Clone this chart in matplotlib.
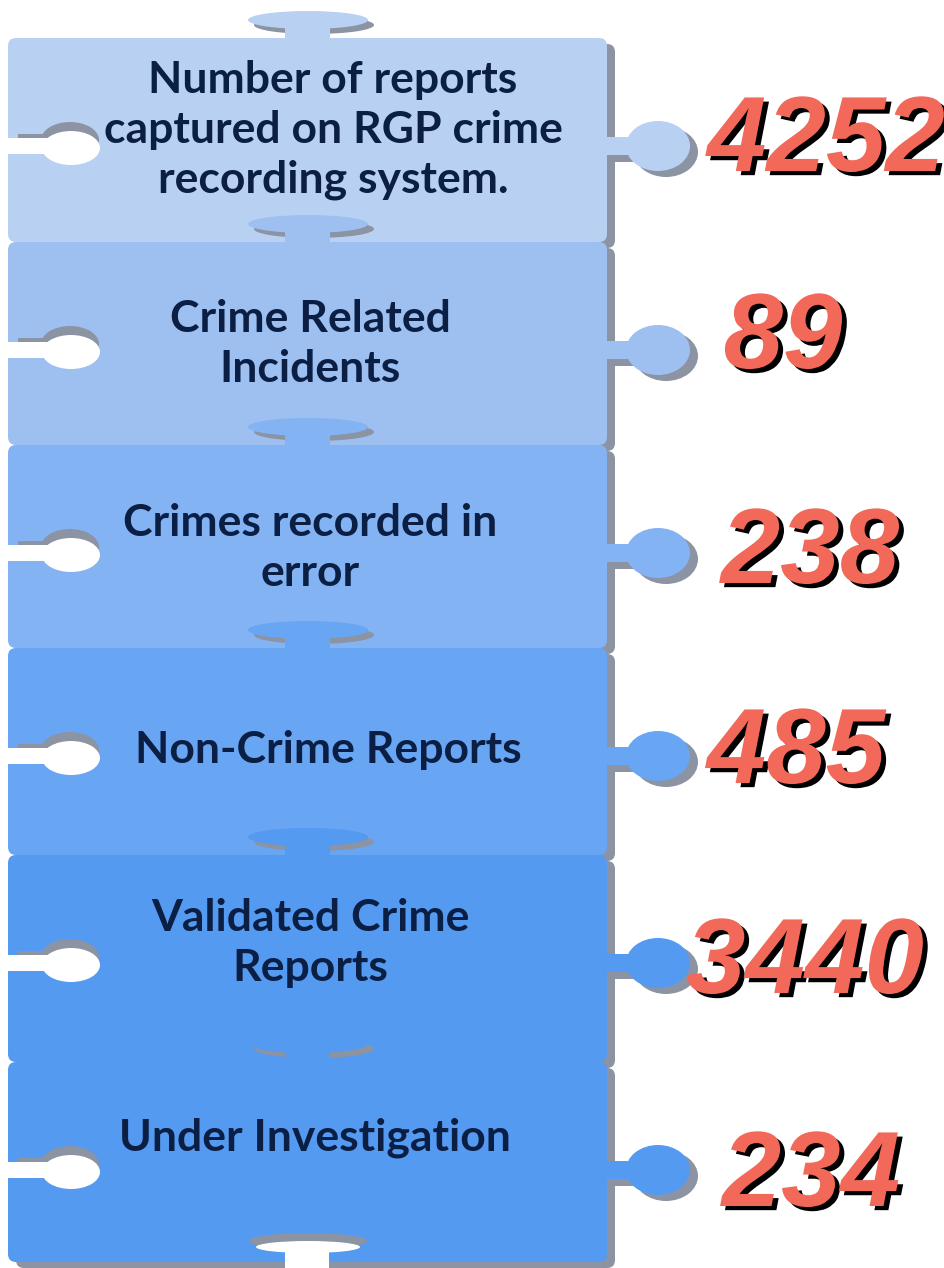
import numpy as np
import matplotlib.pyplot as plt
import matplotlib.patheffects as pe
from matplotlib.patches import FancyBboxPatch, Ellipse, Rectangle

# Данные инфографики
labels = ["Number of reports\ncaptured on RGP crime\nrecording system.",
          "Crime Related\nIncidents",
          "Crimes recorded in\nerror",
          "Non-Crime Reports",
          "Validated Crime\nReports",
          "Under Investigation"]
values = ["4252", "89", "238", "485", "3440", "234"]
colors = ["#b8d1f3", "#9dc0f1", "#84b3f3", "#68a5f2", "#559af1", "#559af1"]

tops = [38, 242, 445, 648, 855, 1062]
bottom = 1262
label_x = [333, 310, 310, 328, 310, 315]
label_y = [130, 344, 548, 750, 943, 1138]
num_x = [826, 783, 810, 796, 805, 811]
num_y = [143, 340, 555, 755, 965, 1178]

shadow = "#8c93a3"
left, right = 8, 607

fig = plt.figure(figsize=(9.44, 12.68), dpi=100)
ax = fig.add_axes([0, 0, 1, 1])
ax.set_xlim(0, 944)
ax.set_ylim(1268, 0)
ax.axis("off")

num_fx = [pe.withSimplePatchShadow(offset=(3.5, -3), shadow_rgbFace="black", alpha=1)]

for i in range(len(labels)):
    T = tops[i]
    B = tops[i + 1] if i + 1 < len(tops) else bottom
    c = T + 108
    col = colors[i]
    # тень и тело
    ax.add_patch(FancyBboxPatch((left + 8, T + 6), right - left, B - T,
                                boxstyle="round,pad=0,rounding_size=8", fc=shadow, ec="none"))
    ax.add_patch(FancyBboxPatch((left, T), right - left, B - T,
                                boxstyle="round,pad=0,rounding_size=8", fc=col, ec="none"))
    # правый выступ
    ax.add_patch(Ellipse((666, c + 6), 64, 50, fc=shadow, ec="none"))
    ax.add_patch(Rectangle((right, c - 2), 30, 18, fc=shadow, ec="none"))
    ax.add_patch(Rectangle((right - 2, c - 9), 30, 18, fc=col, ec="none"))
    ax.add_patch(Ellipse((658, c), 64, 50, fc=col, ec="none"))
    # левое отверстие
    ax.add_patch(Rectangle((left + 10, c - 12), 40, 10, fc=shadow, ec="none"))
    ax.add_patch(Ellipse((70, c - 6), 58, 36, fc=shadow, ec="none"))
    ax.add_patch(Rectangle((left - 2, c - 8), 50, 16, fc="white", ec="none"))
    ax.add_patch(Ellipse((71, c + 2), 58, 34, fc="white", ec="none"))
    # верхний выступ
    ax.add_patch(Ellipse((314, T - 13), 120, 18, fc=shadow, ec="none"))
    ax.add_patch(Rectangle((285, T - 20), 45, 21, fc=col, ec="none"))
    ax.add_patch(Ellipse((308, T - 18), 120, 18, fc=col, ec="none"))

    ax.text(label_x[i], label_y[i], labels[i], family="Lato", fontweight="bold",
            fontsize=32, color="#0b1f44", ha="center", va="center",
            linespacing=1.3, zorder=10)
    ax.text(num_x[i], num_y[i], values[i],
            family=["Liberation Sans", "DejaVu Sans"],
            fontweight="bold", fontstyle="italic", fontsize=77, color="#f26859",
            ha="center", va="center", zorder=10, path_effects=num_fx)

# нижний вырез последнего элемента
ax.add_patch(Ellipse((308, 1241), 118, 16, fc=shadow, ec="none"))
ax.add_patch(Ellipse((308, 1247), 104, 12, fc="white", ec="none"))
ax.add_patch(Rectangle((285, 1247), 44, 22, fc="white", ec="none"))

fig.savefig("out.png", dpi=100)
